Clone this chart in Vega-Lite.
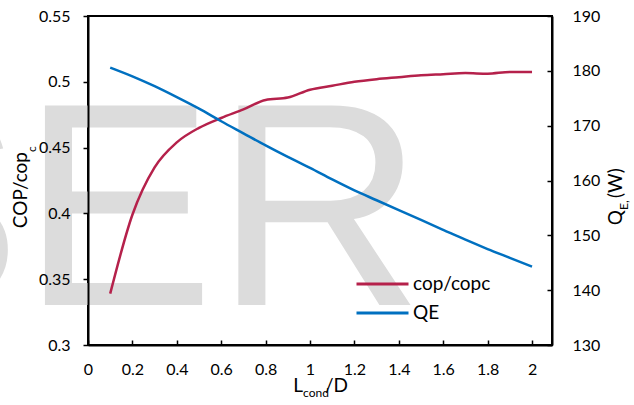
{
  "$schema": "https://vega.github.io/schema/vega-lite/v6.json",
  "width": 464,
  "height": 329,
  "autosize": {"type": "none"},
  "padding": {"left": 88, "top": 16, "right": 82, "bottom": 60},
  "background": "white",
  "datasets": {
    "curves": [
      {"ld": 0.1, "cop": 0.339, "qe": 180.6},
      {"ld": 0.2, "cop": 0.399, "qe": 179.0},
      {"ld": 0.3, "cop": 0.435, "qe": 177.2},
      {"ld": 0.4, "cop": 0.454, "qe": 175.2},
      {"ld": 0.5, "cop": 0.465, "qe": 173.1},
      {"ld": 0.6, "cop": 0.4725, "qe": 170.8},
      {"ld": 0.7, "cop": 0.479, "qe": 168.6},
      {"ld": 0.8, "cop": 0.4862, "qe": 166.4},
      {"ld": 0.9, "cop": 0.488, "qe": 164.3},
      {"ld": 1.0, "cop": 0.494, "qe": 162.3},
      {"ld": 1.1, "cop": 0.497, "qe": 160.2},
      {"ld": 1.2, "cop": 0.5, "qe": 158.2},
      {"ld": 1.3, "cop": 0.502, "qe": 156.4},
      {"ld": 1.4, "cop": 0.5035, "qe": 154.6},
      {"ld": 1.5, "cop": 0.505, "qe": 152.8},
      {"ld": 1.6, "cop": 0.5058, "qe": 151.0},
      {"ld": 1.7, "cop": 0.5066, "qe": 149.2},
      {"ld": 1.8, "cop": 0.5062, "qe": 147.5},
      {"ld": 1.9, "cop": 0.5075, "qe": 145.9},
      {"ld": 2.0, "cop": 0.5075, "qe": 144.3}
    ],
    "labels": [
      {"part": "SER", "role": "watermark", "px": 1.5135, "py": 0.3304},
      {"part": "L", "role": "xmain", "px": 0.9685, "py": 0.26429},
      {"part": "cond", "role": "xsub", "px": 0.9685, "py": 0.26049},
      {"part": "/D", "role": "xtail", "px": 1.0676, "py": 0.26429},
      {"part": "COP/cop", "role": "ymain", "px": -0.27477, "py": 0.44666},
      {"part": "c", "role": "ysub", "px": -0.23423, "py": 0.44666},
      {"part": "Q", "role": "ymain", "px": 2.40541, "py": 0.40258},
      {"part": "E,", "role": "ysub", "px": 2.43243, "py": 0.40258},
      {"part": "(W)", "role": "ytail", "px": 2.40541, "py": 0.4117}
    ]
  },
  "layer": [
    {
      "layer": [
        {
          "data": {"name": "labels"},
          "transform": [{"filter": "datum.role === 'watermark'"}],
          "mark": {"type": "text", "font": "Liberation Sans", "fontSize": 290, "align": "right", "baseline": "alphabetic", "color": "#dcdcdc"},
          "encoding": {
            "x": {"field": "px", "type": "quantitative"},
            "y": {"field": "py", "type": "quantitative"},
            "text": {"field": "part"}
          }
        },
        {
          "data": {"name": "curves"},
          "mark": {"type": "line", "interpolate": "monotone", "strokeWidth": 2.5},
          "encoding": {
            "x": {
              "field": "ld", "type": "quantitative",
              "scale": {"domain": [0, 2.09], "nice": false, "zero": false},
              "axis": {
                "title": null, "values": [0, 0.2, 0.4, 0.6, 0.8, 1, 1.2, 1.4, 1.6, 1.8, 2], "format": "~g",
                "grid": false, "domainColor": "black", "domainWidth": 2, "tickColor": "black", "tickWidth": 1.5,
                "tickSize": -5, "labelPadding": 21, "labelFlush": false, "labelOverlap": false,
                "labelFont": "Lato", "labelFontSize": 16, "labelColor": "black", "zindex": 1
              }
            },
            "y": {
              "field": "cop", "type": "quantitative", "title": null,
              "scale": {"domain": [0.3, 0.55], "nice": false, "zero": false},
              "axis": {
                "title": null, "values": [0.3, 0.35, 0.4, 0.45, 0.5, 0.55], "format": "~g",
                "grid": false, "domainColor": "black", "domainWidth": 2, "tickColor": "black", "tickWidth": 1.5,
                "tickSize": 5, "labelPadding": 13, "labelOverlap": false,
                "labelFont": "Lato", "labelFontSize": 16, "labelColor": "black", "zindex": 1
              }
            },
            "color": {"datum": "cop/copc"}
          }
        },
        {
          "data": {"name": "labels"},
          "transform": [{"filter": "datum.role === 'xmain'"}],
          "mark": {"type": "text", "font": "Lato", "fontSize": 19, "align": "right", "baseline": "alphabetic", "color": "black"},
          "encoding": {
            "x": {"field": "px", "type": "quantitative"},
            "y": {"field": "py", "type": "quantitative"},
            "text": {"field": "part"}
          }
        },
        {
          "data": {"name": "labels"},
          "transform": [{"filter": "datum.role === 'xsub' || datum.role === 'xtail'"}],
          "mark": {"type": "text", "font": "Lato", "align": "left", "baseline": "alphabetic", "color": "black"},
          "encoding": {
            "x": {"field": "px", "type": "quantitative"},
            "y": {"field": "py", "type": "quantitative"},
            "text": {"field": "part"},
            "size": {"condition": {"test": "datum.role === 'xsub'", "value": 12}, "value": 19}
          }
        },
        {
          "data": {"name": "labels"},
          "transform": [{"filter": "datum.role === 'ymain'"}],
          "mark": {"type": "text", "font": "Lato", "fontSize": 19, "angle": 270, "align": "right", "baseline": "alphabetic", "color": "black"},
          "encoding": {
            "x": {"field": "px", "type": "quantitative"},
            "y": {"field": "py", "type": "quantitative"},
            "text": {"field": "part"}
          }
        },
        {
          "data": {"name": "labels"},
          "transform": [{"filter": "datum.role === 'ysub' || datum.role === 'ytail'"}],
          "mark": {"type": "text", "font": "Lato", "angle": 270, "align": "left", "baseline": "alphabetic", "color": "black"},
          "encoding": {
            "x": {"field": "px", "type": "quantitative"},
            "y": {"field": "py", "type": "quantitative"},
            "text": {"field": "part"},
            "size": {"condition": {"test": "datum.role === 'ysub'", "value": 12}, "value": 19}
          }
        }
      ]
    },
    {
      "data": {"name": "curves"},
      "mark": {"type": "line", "interpolate": "monotone", "strokeWidth": 2.5},
      "encoding": {
        "x": {
          "field": "ld", "type": "quantitative",
          "scale": {"domain": [0, 2.09], "nice": false, "zero": false},
          "axis": {
            "title": null, "values": [0, 0.2, 0.4, 0.6, 0.8, 1, 1.2, 1.4, 1.6, 1.8, 2], "format": "~g",
            "grid": false, "domainColor": "black", "domainWidth": 2, "tickColor": "black", "tickWidth": 1.5,
            "tickSize": -5, "labelPadding": 21, "labelFlush": false, "labelOverlap": false,
            "labelFont": "Lato", "labelFontSize": 16, "labelColor": "black", "zindex": 1
          }
        },
        "y": {
          "field": "qe", "type": "quantitative", "title": null,
          "scale": {"domain": [130, 190], "nice": false, "zero": false},
          "axis": {
            "orient": "right", "title": null, "values": [130, 140, 150, 160, 170, 180, 190],
            "grid": false, "domainColor": "black", "domainWidth": 2, "tickColor": "black", "tickWidth": 1.5,
            "tickSize": -5, "labelPadding": 25, "labelOverlap": false,
            "labelFont": "Lato", "labelFontSize": 16, "labelColor": "black", "zindex": 1
          }
        },
        "color": {"datum": "QE"}
      }
    }
  ],
  "resolve": {"scale": {"y": "independent"}},
  "encoding": {},
  "config": {
    "view": {"stroke": "black", "strokeWidth": 2},
    "range": {"category": ["#b5214b", "#0070c0"]},
    "legend": {
      "orient": "none", "legendX": 267, "legendY": 258, "title": null,
      "symbolType": "stroke", "symbolSize": 2704, "symbolStrokeWidth": 3,
      "labelFont": "Lato", "labelFontSize": 19, "labelColor": "black", "labelOffset": 3,
      "clipHeight": 20, "rowPadding": 9, "padding": 0
    }
  }
}
